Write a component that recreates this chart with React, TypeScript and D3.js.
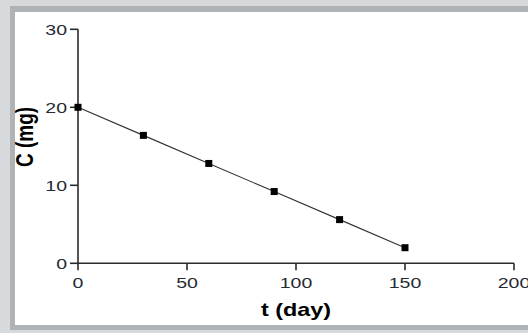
import * as d3 from "d3";
import { useEffect, useRef } from "react";

const days = [0, 30, 60, 90, 120, 150];
const mass = [20, 16.4, 12.8, 9.2, 5.6, 2.0];
const xTicks = [0, 50, 100, 150, 200];
const yTicks = [0, 10, 20, 30];

function App() {
    const svgRef = useRef<SVGSVGElement>(null);

    useEffect(() => {
        const svg = d3.select(svgRef.current);
        svg.selectAll("*").remove();

        const width = 528;
        const height = 333;
        const stretch = 1.3; // picture text is widened horizontally

        svg.attr("width", width).attr("height", height);

        // --- frame / shadow ---
        svg.append("rect").attr("width", width).attr("height", height).attr("fill", "#d6dadd");
        svg.append("rect").attr("x", 10).attr("y", 6).attr("width", width - 10).attr("height", 324).attr("fill", "#afb3b6");
        svg.append("rect").attr("x", 15).attr("y", 12).attr("width", width - 15).attr("height", 313).attr("fill", "#ffffff");

        // scales
        const x = d3.scaleLinear().domain([0, 200]).range([78, 514]);
        const y = d3.scaleLinear().domain([0, 30]).range([263.3, 29.3]);

        const ink = "#2b2b2b";
        const font = "'Liberation Sans', Arial, sans-serif";

        // axes lines
        svg.append("line")
            .attr("x1", x(0)).attr("x2", x(200))
            .attr("y1", y(0)).attr("y2", y(0))
            .attr("stroke", ink).attr("stroke-width", 1.6);
        svg.append("line")
            .attr("x1", x(0)).attr("x2", x(0))
            .attr("y1", y(0)).attr("y2", y(30))
            .attr("stroke", ink).attr("stroke-width", 1.6);

        // x ticks
        const xt = svg.append("g");
        xTicks.forEach(t => {
            xt.append("line")
                .attr("x1", x(t)).attr("x2", x(t))
                .attr("y1", y(0)).attr("y2", y(0) + 7)
                .attr("stroke", ink).attr("stroke-width", 1.6);
            xt.append("text")
                .attr("transform", `translate(${x(t)},${y(0) + 25}) scale(${stretch},1)`)
                .attr("text-anchor", "middle")
                .attr("font-family", font)
                .attr("font-size", 15)
                .attr("fill", "#262a33")
                .text(t);
        });

        // y ticks
        const yt = svg.append("g");
        yTicks.forEach(t => {
            yt.append("line")
                .attr("x1", x(0) - 8).attr("x2", x(0))
                .attr("y1", y(t)).attr("y2", y(t))
                .attr("stroke", ink).attr("stroke-width", 1.6);
            yt.append("text")
                .attr("transform", `translate(${x(0) - 11},${y(t) + 5.5}) scale(${stretch},1)`)
                .attr("text-anchor", "end")
                .attr("font-family", font)
                .attr("font-size", 15)
                .attr("fill", "#262a33")
                .text(t);
        });

        // data line
        const pts = days.map((d, i) => [d, mass[i]] as [number, number]);
        const line = d3.line<[number, number]>().x(d => x(d[0])).y(d => y(d[1]));
        svg.append("path")
            .attr("d", line(pts))
            .attr("fill", "none")
            .attr("stroke", "#333")
            .attr("stroke-width", 1.1);

        // markers
        svg.selectAll("rect.pt")
            .data(pts)
            .enter()
            .append("rect")
            .attr("class", "pt")
            .attr("x", d => x(d[0]) - 3.5)
            .attr("y", d => y(d[1]) - 3.5)
            .attr("width", 7)
            .attr("height", 7)
            .attr("fill", "#000");

        // x label
        svg.append("text")
            .attr("transform", `translate(${x(100)},315.5) scale(${stretch},1)`)
            .attr("text-anchor", "middle")
            .attr("font-family", font)
            .attr("font-weight", "bold")
            .attr("font-size", 18)
            .attr("fill", "#000")
            .text("t (day)");

        // y label
        svg.append("text")
            .attr("transform", `translate(33,137) scale(${stretch},1) rotate(-90)`)
            .attr("text-anchor", "middle")
            .attr("font-family", font)
            .attr("font-weight", "bold")
            .attr("font-size", 19)
            .attr("fill", "#000")
            .text("C (mg)");
    }, []);

    return <svg ref={svgRef} style={{ position: "absolute", left: 0, top: 0 }} />;
}

export default App;
